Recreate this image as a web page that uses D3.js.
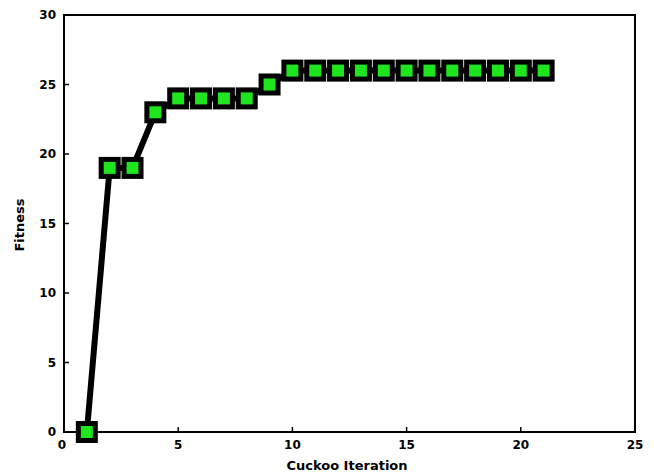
<!DOCTYPE html>
<html>
<head>
<meta charset="utf-8">
<script src="https://cdn.jsdelivr.net/npm/d3@7"></script>
<style>
  body { margin: 0; background: #fff; }
  text { font-family: "DejaVu Sans", sans-serif; font-weight: bold; }
</style>
</head>
<body>
<svg id="chart" width="654" height="476"></svg>
<script>
"use strict";
const iterations = [1, 2, 3, 4, 5, 6, 7, 8, 9, 10, 11, 12, 13, 14, 15, 16, 17, 18, 19, 20, 21];
const fitness = [0, 19, 19, 23, 24, 24, 24, 24, 25, 26, 26, 26, 26, 26, 26, 26, 26, 26, 26, 26, 26];
const xTicks = [0, 5, 10, 15, 20, 25];
const yTicks = [0, 5, 10, 15, 20, 25, 30];

const svg = d3.select('#chart');
const plotL = 64, plotR = 635, plotT = 15, plotB = 432;

const x = d3.scaleLinear().domain([0, 25]).range([plotL, plotR]);
const y = d3.scaleLinear().domain([0, 30]).range([plotB, plotT]);

// box
svg.append('rect')
    .attr('x', plotL).attr('y', plotT)
    .attr('width', plotR - plotL).attr('height', plotB - plotT)
    .attr('fill', 'none').attr('stroke', '#000').attr('stroke-width', 2);

// x ticks
svg.selectAll('.xt')
    .data(xTicks)
    .enter()
    .append('line')
    .attr('x1', d => x(d)).attr('x2', d => x(d))
    .attr('y1', plotB).attr('y2', plotB - 5)
    .attr('stroke', '#000').attr('stroke-width', 1.5);
svg.selectAll('.xl')
    .data(xTicks)
    .enter()
    .append('text')
    .attr('x', d => d === 0 ? x(d) - 2 : x(d))
    .attr('y', plotB + 17)
    .attr('text-anchor', 'middle')
    .attr('font-size', '12px')
    .text(d => d);

// y ticks
svg.selectAll('.yt')
    .data(yTicks)
    .enter()
    .append('line')
    .attr('x1', plotL).attr('x2', plotL + 5)
    .attr('y1', d => y(d)).attr('y2', d => y(d))
    .attr('stroke', '#000').attr('stroke-width', 1.5);
svg.selectAll('.yl')
    .data(yTicks)
    .enter()
    .append('text')
    .attr('x', plotL - 8)
    .attr('y', d => y(d) + 4)
    .attr('text-anchor', 'end')
    .attr('font-size', '12px')
    .text(d => d);

// axis titles
svg.append('text')
    .attr('x', 347)
    .attr('y', 470)
    .attr('text-anchor', 'middle')
    .attr('font-size', '13px')
    .text('Cuckoo Iteration');
svg.append('text')
    .attr('transform', 'translate(24,225) rotate(-90)')
    .attr('text-anchor', 'middle')
    .attr('font-size', '13px')
    .text('Fitness');

const pts = iterations.map((d, i) => [d, fitness[i]]);

svg.append('path')
    .datum(pts)
    .attr('d', d3.line().x(d => x(d[0])).y(d => y(d[1])))
    .attr('fill', 'none')
    .attr('stroke', '#000')
    .attr('stroke-width', 6)
    .attr('stroke-linejoin', 'round');

svg.selectAll('.mk')
    .data(pts)
    .enter()
    .append('rect')
    .attr('x', d => x(d[0]) - 8.5)
    .attr('y', d => y(d[1]) - 8.5)
    .attr('width', 17)
    .attr('height', 17)
    .attr('fill', '#1fe51f')
    .attr('stroke', '#000')
    .attr('stroke-width', 5);
</script>
</body>
</html>
